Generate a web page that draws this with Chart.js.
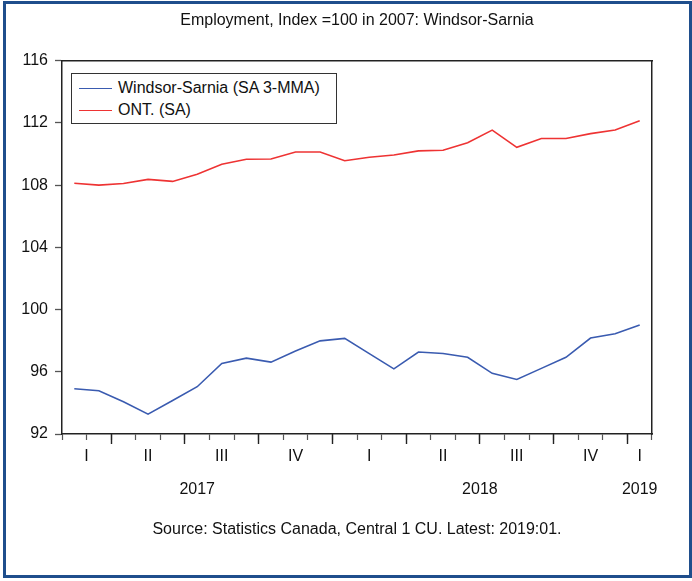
<!DOCTYPE html>
<html lang="en">
<head>
<meta charset="UTF-8">
<title>Employment, Index =100 in 2007: Windsor-Sarnia</title>
<script src="https://cdn.jsdelivr.net/npm/chart.js@4.4.1/dist/chart.umd.min.js"></script>
<style>
    html, body { margin: 0; padding: 0; background: #fff; overflow: hidden; }
    #wrap { position: relative; width: 692px; height: 581px; }
    #chart { display: block; }
    #frame { position: absolute; left: 3px; top: 1px; width: 689px; height: 577px; box-sizing: border-box;
             border: 3px solid #1f4e8c; pointer-events: none; }
    #legend { position: absolute; box-sizing: border-box; width: 266px; height: 51px; padding: 3px 0 0 7px;
              border: 1px solid #333; background: #fff; color: #111;
              font: 16px "Liberation Sans", Arial, sans-serif; }
    #legend .row { height: 22px; display: flex; align-items: center; white-space: nowrap; }
    #legend .swatch { width: 33px; height: 0; border-top: 1.5px solid; margin-right: 6px; }
</style>
</head>
<body>
<div id="wrap">
    <canvas id="chart" width="692" height="581"></canvas>
    <div id="legend"></div>
    <div id="frame"></div>
</div>
<script>
// monthly data, Feb 2017 .. Jan 2019
const months = ['2017-02', '2017-03', '2017-04', '2017-05', '2017-06', '2017-07', '2017-08', '2017-09',
                '2017-10', '2017-11', '2017-12', '2018-01', '2018-02', '2018-03', '2018-04', '2018-05',
                '2018-06', '2018-07', '2018-08', '2018-09', '2018-10', '2018-11', '2018-12', '2019-01'];
const windsorSarnia = [94.91, 94.78, 94.07, 93.28, 94.15, 95.04, 96.54, 96.88, 96.62, 97.33, 97.99, 98.15,
                       97.17, 96.19, 97.27, 97.18, 96.93, 95.90, 95.51, 96.22, 96.93, 98.17, 98.44, 99.00];
const ontario = [108.12, 108.00, 108.10, 108.37, 108.24, 108.70, 109.34, 109.66, 109.68, 110.13, 110.13, 109.57,
                 109.79, 109.94, 110.20, 110.24, 110.73, 111.54, 110.43, 111.00, 111.00, 111.31, 111.54, 112.14];
const seriesNames = ['Windsor-Sarnia (SA 3-MMA)', 'ONT. (SA)'];
const quarterNames = ['I', 'II', 'III', 'IV'];
const yMin = 92, yMax = 116, yStep = 4;
const titleText = 'Employment, Index =100 in 2007: Windsor-Sarnia';
const sourceText = 'Source: Statistics Canada, Central 1 CU. Latest: 2019:01.';

const FONT = '"Liberation Sans", Arial, sans-serif';
const AXIS = '#222';
const TICK = '#555';

// label each run of months (quarter or year) at the middle of its visible span
function groupLabels(keyOf, labelOf) {
    const groups = [];
    months.forEach((m, i) => {
        const key = keyOf(m);
        const last = groups[groups.length - 1];
        if (last && last.key === key) last.end = i;
        else groups.push({ key: key, start: i, end: i, label: labelOf(m) });
    });
    return groups.map(g => ({ value: (g.start + g.end) / 2, label: g.label }));
}
const yearOf = m => m.slice(0, 4);
const quarterOf = m => Math.floor((parseInt(m.slice(5), 10) - 1) / 3);
const quarterTicks = groupLabels(m => yearOf(m) + 'Q' + quarterOf(m), m => quarterNames[quarterOf(m)]);
const yearTicks = groupLabels(yearOf, yearOf);
const isQuarterStart = m => (parseInt(m.slice(5), 10) - 1) % 3 === 0;

function labelAxis(ticksList, weight, padding, height) {
    return {
        type: 'linear', position: 'bottom', weight: weight,
        min: -0.5, max: months.length - 0.5,
        grid: { display: false, drawTicks: false },
        border: { display: false },
        afterBuildTicks: s => { s.ticks = ticksList.map(t => ({ value: t.value })); },
        afterFit: s => { s.height = height; },
        ticks: {
            autoSkip: false, maxRotation: 0, minRotation: 0, padding: padding,
            color: '#111', font: { size: 16 },
            callback: (v, i) => ticksList[i].label
        }
    };
}

Chart.defaults.font.family = FONT;
Chart.defaults.font.size = 16;

const chart = new Chart(document.getElementById('chart').getContext('2d'), {
    type: 'line',
    data: {
        labels: months,
        datasets: [
            { label: seriesNames[0], data: windsorSarnia, borderColor: '#3a5bb0', borderWidth: 1.6,
              pointRadius: 0, tension: 0, fill: false },
            { label: seriesNames[1], data: ontario, borderColor: '#ee3333', borderWidth: 1.6,
              pointRadius: 0, tension: 0, fill: false }
        ]
    },
    options: {
        responsive: false,
        animation: false,
        devicePixelRatio: 1,
        layout: { padding: { left: 0, right: 40, top: 0, bottom: 0 } },
        plugins: {
            legend: { display: false },
            tooltip: { enabled: false },
            title: { display: true, text: titleText, fullSize: false, color: '#111',
                     font: { size: 16, weight: 'normal' }, padding: { top: 11.4, bottom: 30.1 } },
            subtitle: { display: true, text: sourceText, position: 'bottom', fullSize: false, color: '#111',
                        font: { size: 16, weight: 'normal' }, padding: { top: 18.4, bottom: 41.4 } }
        },
        scales: {
            x: {
                type: 'category', position: 'bottom', weight: 0, offset: true,
                grid: { display: true, offset: true, drawOnChartArea: false, drawTicks: true,
                        tickLength: 6, tickWidth: 1.2, tickColor: TICK },
                border: { display: true, color: AXIS, width: 1.5 },
                ticks: { display: false },
                afterFit: s => { s.height = 0; }
            },
            xLong: {
                type: 'category', position: 'bottom', weight: 1, offset: true,
                grid: { display: true, offset: true, drawOnChartArea: false, drawTicks: true,
                        tickLength: 10, tickWidth: 1.4,
                        tickColor: ctx => (ctx.tick && isQuarterStart(months[ctx.index])) ? AXIS : 'rgba(0,0,0,0)' },
                border: { display: false },
                ticks: { display: false },
                afterFit: s => { s.height = 0; }
            },
            xQuarter: labelAxis(quarterTicks, 2, 13.4, 38),
            xYear: labelAxis(yearTicks, 3, 8.4, 30),
            xTop: {
                type: 'linear', position: 'top', min: 0, max: 1,
                grid: { display: false, drawTicks: false },
                border: { display: true, color: AXIS, width: 1.5 },
                ticks: { display: false },
                afterFit: s => { s.height = 0; }
            },
            y: {
                type: 'linear', position: 'left', min: yMin, max: yMax,
                grid: { display: true, drawOnChartArea: false, drawTicks: true,
                        tickLength: 7, tickWidth: 1.3, tickColor: TICK },
                border: { display: true, color: AXIS, width: 1.5 },
                ticks: { stepSize: yStep, padding: 7, color: '#111', font: { size: 16 } },
                afterFit: s => { s.width = 62; }
            },
            yRight: {
                type: 'linear', position: 'right', min: 0, max: 1,
                grid: { display: false, drawTicks: false },
                border: { display: true, color: AXIS, width: 1.5 },
                ticks: { display: false },
                afterFit: s => { s.width = 0; }
            }
        }
    }
});

// boxed legend inside the plot, top left
const area = chart.chartArea;
const legend = document.getElementById('legend');
legend.style.left = (area.left + 9) + 'px';
legend.style.top = (area.top + 12.5) + 'px';
chart.data.datasets.forEach(ds => {
    const row = document.createElement('div');
    row.className = 'row';
    const sw = document.createElement('span');
    sw.className = 'swatch';
    sw.style.borderTopColor = ds.borderColor;
    const txt = document.createElement('span');
    txt.textContent = ds.label;
    row.appendChild(sw);
    row.appendChild(txt);
    legend.appendChild(row);
});
</script>
</body>
</html>
